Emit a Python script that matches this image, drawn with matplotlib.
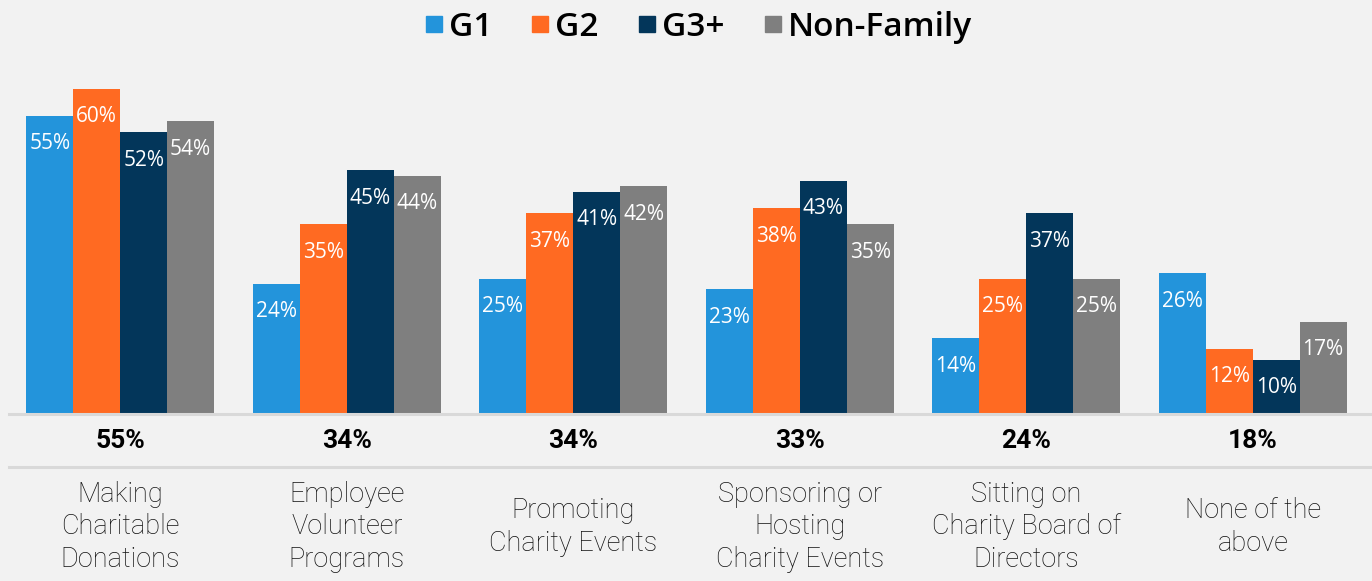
import matplotlib
matplotlib.use("Agg")
import matplotlib.pyplot as plt
import numpy as np
from matplotlib.lines import Line2D

categories = ["Making\nCharitable\nDonations", "Employee\nVolunteer\nPrograms",
              "Promoting\nCharity Events", "Sponsoring or\nHosting\nCharity Events",
              "Sitting on\nCharity Board of\nDirectors", "None of the\nabove"]
series_names = ["G1", "G2", "G3+", "Non-Family"]
g1 = [55, 24, 25, 23, 14, 26]
g2 = [60, 35, 37, 38, 25, 12]
g3 = [52, 45, 41, 43, 37, 10]
nonfam = [54, 44, 42, 35, 25, 17]
totals = ["55%", "34%", "34%", "33%", "24%", "18%"]

colors = ["#2394DB", "#FF6A22", "#03365A", "#7F7F7F"]
bg = "#F2F2F2"
line_c = "#D9D9D9"

W, H = 1372, 581
fig = plt.figure(figsize=(W / 100, H / 100), dpi=100, facecolor=bg)
ax_left, ax_right = 7, 1366
ax_top, ax_bot = 70, 414
ax = fig.add_axes([ax_left / W, 1 - ax_bot / H, (ax_right - ax_left) / W, (ax_bot - ax_top) / H])
ax.set_facecolor(bg)

x = np.arange(len(categories))
bw = 0.207
data = [g1, g2, g3, nonfam]
for i, (name, vals, c) in enumerate(zip(series_names, data, colors)):
    pos = x + (i - 1.5) * bw
    bars = ax.bar(pos, vals, bw, color=c, label=name, zorder=2)
    for b, v in zip(bars, vals):
        ax.annotate(f"{v}%", (b.get_x() + b.get_width() / 2, v), xytext=(0, -28),
                    textcoords="offset pixels", ha="center", va="center",
                    color="white", fontsize=15, family="Open Sans", zorder=3)

ax.set_xlim(-0.5, len(categories) - 0.5)
ax.set_ylim(0, (ax_bot - ax_top) / 5.42)
for s in ax.spines.values():
    s.set_visible(False)
ax.set_xticks([])
ax.set_yticks([])

# horizontal rules
for yp in (414, 467):
    fig.add_artist(Line2D([9 / W, 1.0], [1 - yp / H, 1 - yp / H], color=line_c, lw=2.2,
                          transform=fig.transFigure))

tr = ax.get_xaxis_transform()
hpx = ax_bot - ax_top
for xi, t, cat in zip(x, totals, categories):
    ax.text(xi, (ax_bot - 441) / hpx, t, transform=tr, ha="center", va="center",
            fontsize=19, fontweight="bold", family="Roboto", clip_on=False)
    ax.text(xi, (ax_bot - 527) / hpx, cat, transform=tr, ha="center", va="center",
            fontsize=19.5, fontweight="light", family="Roboto", linespacing=1.27,
            clip_on=False, color="#111111")

handles = [Line2D([], [], marker="s", linestyle="none", markersize=12,
                  markerfacecolor=c, markeredgecolor=c) for c in colors]
fig.legend(handles, series_names, loc="center", bbox_to_anchor=(0.508, 1 - 27 / H),
           ncol=4, frameon=False, prop={"family": "Open Sans", "size": 24, "weight": "semibold"},
           handletextpad=0.1, columnspacing=1.1, handlelength=0.7)

fig.savefig("out.png", dpi=100, facecolor=bg)
